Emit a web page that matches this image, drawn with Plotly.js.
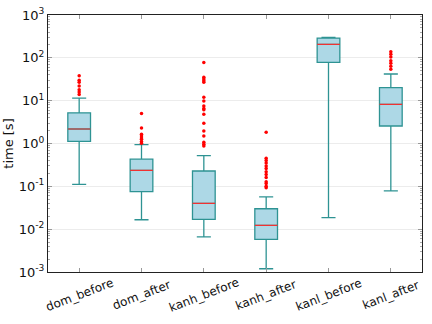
<!DOCTYPE html>
<html>
<head>
<meta charset="utf-8">
<script src="https://cdn.plot.ly/plotly-3.0.1.min.js"></script>
<style>
  html, body { margin: 0; padding: 0; background: #fff; }
  #plot { width: 432px; height: 324px; }
</style>
</head>
<body>
<div id="plot"></div>
<script>
var cats = ['dom_before', 'dom_after', 'kanh_before', 'kanh_after', 'kanl_before', 'kanl_after'];

var lowFence = [0.111, 0.0166, 0.0066, 0.00119, 0.0185, 0.078];
var q1 = [1.12, 0.075, 0.017, 0.0058, 78.5, 2.56];
var med = [2.18, 0.236, 0.040, 0.0123, 207, 8.2];
var q3 = [5.2, 0.43, 0.228, 0.030, 290, 20.1];
var upFence = [11.5, 0.94, 0.52, 0.057, 300, 41.9];

var outDomBefore = [38, 30, 27, 22, 18, 16, 14];
var outDomAfter = [5.0, 2.3, 1.65, 1.5, 1.35, 1.25, 1.12, 1.02];
var outKanhBefore = [78, 35, 32, 29, 27, 12, 9.8, 7.5, 6.6, 6.1, 4.8, 2.96, 1.96, 1.5, 1.07, 0.96, 0.87];
var outKanhAfter = [1.82, 0.45, 0.40, 0.35, 0.30, 0.26, 0.22, 0.19, 0.16, 0.128, 0.116, 0.10, 0.093];
var outKanlAfter = [139, 121, 104, 86, 74.5, 64, 54];

var yTickVals = [0.001, 0.01, 0.1, 1, 10, 100, 1000];
var yTickText = ['10<sup>-3</sup>', '10<sup>-2</sup>', '10<sup>-1</sup>', '10<sup>0</sup>',
                 '10<sup>1</sup>', '10<sup>2</sup>', '10<sup>3</sup>'];

var outX = [], outY = [];
[[0, outDomBefore], [1, outDomAfter], [2, outKanhBefore], [3, outKanhAfter], [5, outKanlAfter]].forEach(function (p) {
  p[1].forEach(function (v) { outX.push(cats[p[0]]); outY.push(v); });
});

var boxes = {
  type: 'box',
  x: cats,
  q1: q1, median: med, q3: q3,
  lowerfence: lowFence, upperfence: upFence,
  boxpoints: false,
  fillcolor: '#add8e6',
  line: {color: '#2e9393', width: 1.3},
  whiskerwidth: 0.62,
  hoverinfo: 'skip'
};

// red median lines drawn as flat boxes on top
var medians = {
  type: 'box',
  x: cats,
  q1: med, median: med, q3: med,
  lowerfence: med, upperfence: med,
  boxpoints: false,
  fillcolor: 'rgba(0,0,0,0)',
  line: {color: '#f03232', width: 1.2},
  whiskerwidth: 0.5,
  hoverinfo: 'skip'
};

var outliers = {
  type: 'scatter',
  mode: 'markers',
  x: outX,
  y: outY,
  marker: {color: '#ff0000', size: 3.5, symbol: 'circle'},
  hoverinfo: 'skip'
};

// category labels, rotated about their centre like the original
var labels = cats.map(function (c) {
  return {
    x: c, xref: 'x', y: 0, yref: 'paper',
    yanchor: 'middle', xanchor: 'center',
    yshift: -23,
    text: c, textangle: -21, showarrow: false,
    font: {size: 12, color: '#111'}
  };
});

var layout = {
  width: 432,
  height: 324,
  margin: {l: 48, r: 10, t: 15, b: 52},
  showlegend: false,
  paper_bgcolor: '#fff',
  plot_bgcolor: '#fff',
  font: {family: 'DejaVu Sans', size: 12, color: '#111'},
  boxmode: 'overlay',
  boxgap: 0.48,
  annotations: labels,
  xaxis: {
    type: 'category',
    range: [-0.5, 5.5],
    showline: true, linecolor: '#222', linewidth: 1, mirror: 'ticks',
    ticks: 'inside', ticklen: 4, tickcolor: '#999',
    showticklabels: false,
    showgrid: false,
    zeroline: false
  },
  yaxis: {
    type: 'log',
    range: [-3, 3],
    tickvals: yTickVals,
    ticktext: yTickText,
    showline: true, linecolor: '#222', linewidth: 1, mirror: 'ticks',
    ticks: 'inside', ticklen: 4, tickcolor: '#999',
    showgrid: true, gridcolor: '#ececec', gridwidth: 1,
    zeroline: false,
    minor: {ticks: 'inside', ticklen: 2, tickcolor: '#aaa', showgrid: false, dtick: 'D1'},
    title: {text: 'time [s]', font: {size: 13}, standoff: 2},
    tickfont: {size: 13}
  }
};

Plotly.newPlot('plot', [boxes, medians, outliers], layout, {displayModeBar: false, staticPlot: true});
</script>
</body>
</html>
